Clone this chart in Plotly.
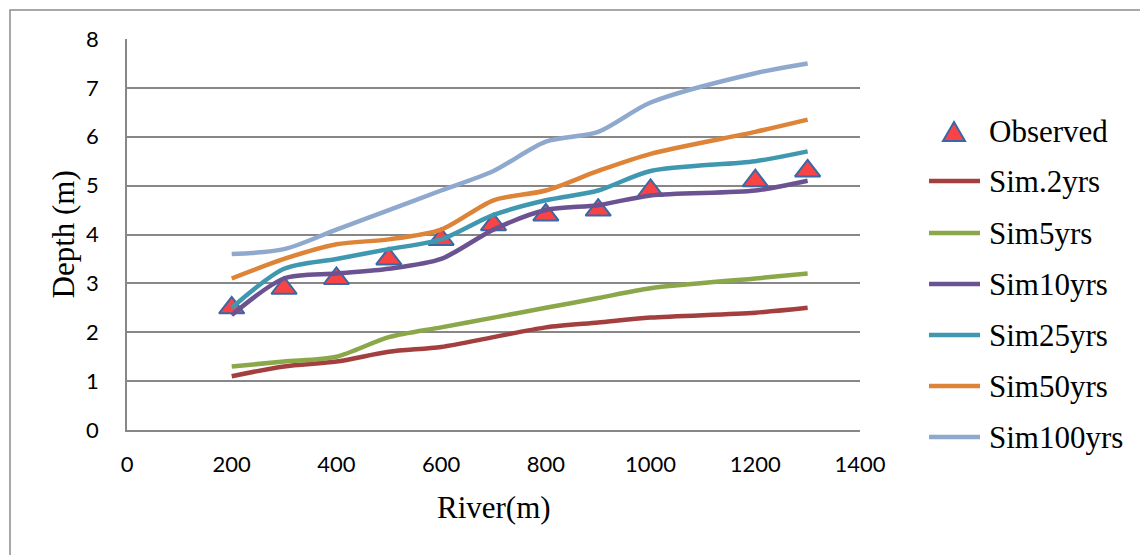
import plotly.graph_objects as go

# River chainage (m)
river_m = [200, 300, 400, 500, 600, 700, 800, 900, 1000, 1200, 1300]

# Observed depths (m)
observed = [2.5, 2.9, 3.1, 3.5, 3.9, 4.2, 4.4, 4.5, 4.9, 5.1, 5.3]

# Simulated depths (m) for each return period
sim_2yrs = [1.1, 1.3, 1.4, 1.6, 1.7, 1.9, 2.1, 2.2, 2.3, 2.4, 2.5]
sim_5yrs = [1.3, 1.4, 1.5, 1.9, 2.1, 2.3, 2.5, 2.7, 2.9, 3.1, 3.2]
sim_10yrs = [2.35, 3.1, 3.2, 3.3, 3.5, 4.1, 4.5, 4.6, 4.8, 4.9, 5.1]
sim_25yrs = [2.5, 3.3, 3.5, 3.7, 3.9, 4.4, 4.7, 4.9, 5.3, 5.5, 5.7]
sim_50yrs = [3.1, 3.5, 3.8, 3.9, 4.1, 4.7, 4.9, 5.3, 5.65, 6.1, 6.35]
sim_100yrs = [3.6, 3.7, 4.1, 4.5, 4.9, 5.3, 5.9, 6.1, 6.7, 7.3, 7.5]

series_names = ["Sim.2yrs", "Sim5yrs", "Sim10yrs", "Sim25yrs", "Sim50yrs", "Sim100yrs"]
series_values = [sim_2yrs, sim_5yrs, sim_10yrs, sim_25yrs, sim_50yrs, sim_100yrs]
series_colors = ["#A33F3E", "#8AA84A", "#6B5291", "#3F98B0", "#DE8438", "#8FA9CE"]

x_ticks = [0, 200, 400, 600, 800, 1000, 1200, 1400]
y_ticks = [0, 1, 2, 3, 4, 5, 6, 7, 8]

W, H = 1140, 555
ML, MR, MT, MB = 127, 280, 39, 125
PW, PH = W - ML - MR, H - MT - MB


def px_x(x):
    return (x - ML) / PW


def px_y(y):
    return (H - MB - y) / PH


SERIF = "Liberation Serif, Times New Roman, serif"
SANS = "Lato, Calibri, sans-serif"
GRID = "#878787"

fig = go.Figure()

fig.add_trace(go.Scatter(
    x=river_m, y=observed, mode="markers", name="Observed",
    marker=dict(symbol="triangle-up", size=22, color="#F94446",
                line=dict(color="#3A67A6", width=2)),
    showlegend=False,
))

for name, vals, col in zip(series_names, series_values, series_colors):
    fig.add_trace(go.Scatter(
        x=river_m, y=vals, mode="lines", name=name,
        line=dict(color=col, width=4.5, shape="spline", smoothing=0.8),
        showlegend=False,
    ))

shapes = []
annotations = []

# Outer chart frame
shapes.append(dict(type="rect", xref="paper", yref="paper",
                   x0=px_x(10), x1=px_x(W + 20), y0=px_y(H + 20), y1=px_y(10),
                   line=dict(color="#8C8C8C", width=1.5), fillcolor="rgba(0,0,0,0)",
                   layer="below"))

# Legend
legend_text_x = 987
row_y = [131, 181, 233, 284, 335, 386, 437]
# Observed marker symbol
cx, cy = 954, row_y[0] + 1
tri = f"M {px_x(cx - 11)} {px_y(cy + 9)} L {px_x(cx + 11)} {px_y(cy + 9)} L {px_x(cx)} {px_y(cy - 10)} Z"
shapes.append(dict(type="path", xref="paper", yref="paper", path=tri,
                   fillcolor="#F94446", line=dict(color="#3A67A6", width=2)))
annotations.append(dict(xref="paper", yref="paper", x=px_x(legend_text_x), y=px_y(row_y[0]),
                        text="Observed", showarrow=False, xanchor="left", yanchor="middle",
                        font=dict(family=SERIF, size=31, color="black")))
for i, (name, col) in enumerate(zip(series_names, series_colors)):
    yy = row_y[i + 1]
    shapes.append(dict(type="line", xref="paper", yref="paper",
                       x0=px_x(929), x1=px_x(980), y0=px_y(yy), y1=px_y(yy),
                       line=dict(color=col, width=4.5)))
    annotations.append(dict(xref="paper", yref="paper", x=px_x(legend_text_x), y=px_y(yy),
                            text=name, showarrow=False, xanchor="left", yanchor="middle",
                            font=dict(family=SERIF, size=31, color="black")))

# Axis titles
annotations.append(dict(xref="paper", yref="paper", x=0.5, y=px_y(507),
                        text="River(m)", showarrow=False, xanchor="center", yanchor="middle",
                        font=dict(family=SERIF, size=31, color="black")))
annotations.append(dict(xref="paper", yref="paper", x=px_x(63), y=0.5,
                        text="Depth (m)", showarrow=False, textangle=-90,
                        xanchor="center", yanchor="middle",
                        font=dict(family=SERIF, size=31, color="black")))

fig.update_layout(
    width=W, height=H,
    margin=dict(l=ML, r=MR, t=MT, b=MB, pad=0),
    paper_bgcolor="white", plot_bgcolor="white",
    showlegend=False,
    shapes=shapes, annotations=annotations,
    xaxis=dict(range=[0, 1400], tickvals=x_ticks, ticktext=[str(v) for v in x_ticks],
               showgrid=False, zeroline=False, showline=True, linecolor=GRID, linewidth=1.5,
               ticks="", ticklabelstandoff=14,
               tickfont=dict(family=SANS, size=22, color="black")),
    yaxis=dict(range=[0, 8], tickvals=y_ticks, ticktext=[str(v) for v in y_ticks],
               showgrid=True, gridcolor=GRID, gridwidth=1.5, zeroline=False,
               showline=True, linecolor=GRID, linewidth=1.5,
               ticks="", ticklabelstandoff=22,
               tickfont=dict(family=SANS, size=22, color="black")),
)

fig.write_html("out.html")
